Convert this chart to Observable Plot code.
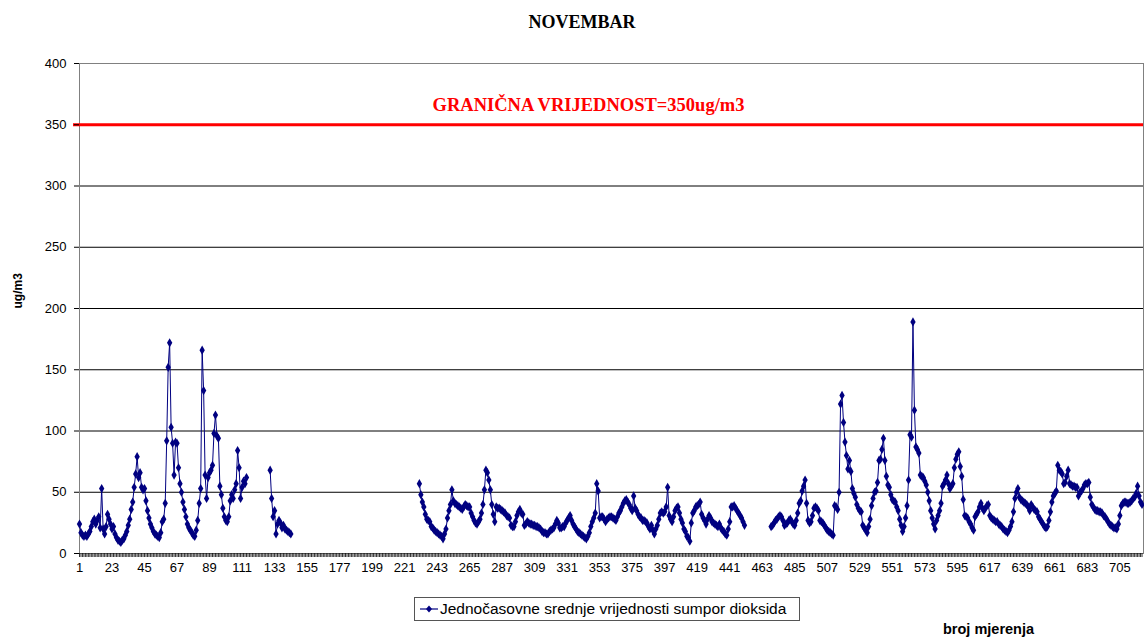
<!DOCTYPE html>
<html>
<head>
<meta charset="utf-8">
<script src="https://cdn.jsdelivr.net/npm/d3@7"></script>
<script src="https://cdn.jsdelivr.net/npm/@observablehq/plot@0.6"></script>
<style>
  body { margin: 0; background: #fff; }
  #wrap { width: 1144px; height: 640px; overflow: hidden; }
  #title { height: 45px; box-sizing: border-box; padding-top: 13px; padding-left: 20px; text-align: center;
           font: bold 18px "Liberation Serif", "Times New Roman", serif; line-height: 18px; color: #000; }
  #chart { height: 545px; }
  #bottom { position: relative; height: 50px; }
  #legend { position: absolute; left: 414px; top: 7px; width: 384px; height: 22px; border: 1px solid #555;
            display: flex; align-items: center; font: 15.5px "Liberation Sans", Arial, sans-serif; color: #000; white-space: nowrap; }
  #legend svg { margin-left: 5px; margin-right: 2px; }
  #xlabel { position: absolute; left: 943px; top: 31px; font: bold 14.5px "Liberation Sans", Arial, sans-serif; color: #000; }
</style>
</head>
<body>
<div id="wrap">
  <div id="title">NOVEMBAR</div>
  <div id="chart"></div>
  <div id="bottom">
    <div id="legend"></div>
    <div id="xlabel"></div>
  </div>
</div>
<script>
// ---- data (hourly SO2 values, ug/m3) ----
const seriesName = "Jednočasovne srednje vrijednosti sumpor dioksida";
const xTitle = "broj mjerenja";
const yTitle = "ug/m3";
const limitValue = 350;
const limitLabel = "GRANIČNA VRIJEDNOST=350ug/m3";
const totalHours = 720;

const segAStart = 1;
const segA = [24,17,15,14,15,14,16,18,22,26,
 28,24,27,30,21,53,20,16,22,32,
 28,24,20,22,16,13,11,10,9,11,
 12,15,18,23,28,36,42,54,65,79,
 62,66,54,52,53,43,35,29,24,21,
 18,16,15,14,13,17,26,28,41,92,
 152,172,103,90,64,91,90,70,57,50,
 42,36,30,24,21,19,17,15,14,19,
 27,41,53,166,133,64,45,62,66,68,
 72,98,113,96,94,55,48,37,30,27,
 26,30,43,48,45,52,57,84,70,45,
 54,59,57,62];

const segBStart = 130;
const segB = [68,45,30,35,16,24,27,25,21,23,20,19,18,17,16];

const segCStart = 231;
const segC = [57,48,42,38,32,28,27,26,22,21,
 19,18,17,16,15,14,12,16,20,29,
 35,40,52,43,41,40,39,38,37,36,
 38,40,39,38,38,33,30,27,25,24,
 26,28,33,40,52,68,66,60,52,40,
 32,26,38,37,37,36,35,34,33,31,
 30,29,23,22,22,26,31,34,36,33,
 32,23,24,26,25,24,24,23,23,22,
 22,21,20,18,17,17,16,16,18,19,
 20,21,24,27,25,21,21,22,22,25,
 27,29,31,27,24,22,20,18,17,16,
 15,14,13,12,14,17,22,26,29,33,
 57,51,29,30,30,28,26,28,29,30,
 30,29,28,27,30,33,35,38,41,43,
 44,42,40,37,35,47,37,35,32,30,
 29,27,27,26,25,22,20,23,19,16,
 20,23,28,33,34,33,34,38,54,31,
 28,26,30,35,37,38,33,28,25,20,
 18,14,13,10,25,33,35,38,39,40,
 42,32,29,27,24,28,31,29,26,25,
 24,23,22,24,21,19,18,16,15,20,
 26,38,38,39,37,35,33,31,29,26,
 23];

const segDStart = 469;
const segD = [22,23,25,27,28,30,31,30,27,23,
 24,25,27,28,26,24,23,27,33,41,
 43,51,55,60,41,27,25,26,31,37,
 38,37,35,27,26,25,23,21,19,18,
 17,16,15,39,38,36,50,122,129,107,
 91,80,69,76,67,53,49,46,40,37,
 35,34,23,21,19,17,22,28,39,45,
 50,51,58,76,77,85,94,76,63,56,
 54,48,44,43,42,38,35,28,23,18,
 22,29,39,60,97,95,189,117,87,85,
 82,64,63,62,59,56,50,43,35,29,
 24,20,27,31,35,41,55,57,60,64,
 57,53,55,57,70,77,81,83,71,63,
 44,31,30,29,26,24,21,19,30,32,
 34,38,41,37,35,37,39,40,31,29,
 28,27,26,26,24,23,22,20,19,18,
 17,19,22,26,34,45,50,53,46,44,
 43,42,41,40,38,35,40,38,36,35,
 34,30,28,26,24,22,21,22,27,34,
 42,47,49,51,72,68,67,65,57,58,
 63,68,57,56,55,55,54,54,47,50,
 51,53,56,57,57,58,46,40,38,36,
 35,35,34,34,33,31,30,28,26,24,
 23,22,21,21,20,24,31,39,41,42,
 42,41,41,42,43,45,46,49,55,47,
 42,40];

const xTickLabels = [1,23,45,67,89,111,133,155,177,199,221,243,265,287,309,331,353,375,397,419,441,463,485,507,529,551,573,595,617,639,661,683,705];
const yTickLabels = [0,50,100,150,200,250,300,350,400];
const gridValues = [0,50,100,150,200,250,300];

// ---- build table ----
const values = new Array(totalHours).fill(null);
for (const [start, seg] of [[segAStart, segA], [segBStart, segB], [segCStart, segC], [segDStart, segD]]) {
  seg.forEach((v, k) => { values[start - 1 + k] = v; });
}
const data = values.map((v, k) => ({i: k + 1, v}));
const points = data.filter(d => d.v != null);
const allIdx = d3.range(1, totalHours + 1);

const navy = "#000080";
const sans = "Liberation Sans, Arial, sans-serif";

const chart = Plot.plot({
  width: 1144,
  height: 545,
  marginTop: 18,
  marginBottom: 37,
  marginLeft: 79,
  marginRight: 1,
  style: {background: "#fff", overflow: "visible"},
  x: {type: "linear", domain: [1, totalHours + 1]},
  y: {domain: [0, 400]},
  marks: [
    Plot.ruleY(gridValues, {stroke: "#000", strokeWidth: 1}),
    Plot.frame({stroke: "#808080"}),
    Plot.ruleY([limitValue], {stroke: "#ff0000", strokeWidth: 3, insetLeft: -6}),
    Plot.text([limitLabel], {frameAnchor: "top", dy: 34, dx: -23, fill: "#ff0000", fontWeight: "bold",
      fontFamily: "Liberation Serif, Times New Roman, serif", fontSize: 18.5}),
    Plot.axisY({ticks: yTickLabels, tickSize: 5, tickPadding: 8, label: null,
      fontSize: 13, fontFamily: sans, fill: "#000", stroke: "#000"}),
    Plot.axisX({ticks: allIdx, tickSize: 4, tickFormat: () => "", label: null, stroke: "#000", strokeWidth: 0.8}),
    Plot.axisX({ticks: xTickLabels, tickSize: 0, tickPadding: 9, tickFormat: d => String(d), label: null,
      fontSize: 13, fontFamily: sans, fill: "#000"}),
    Plot.text([yTitle], {frameAnchor: "left", rotate: -90, dx: -61, fontWeight: "bold",
      fontSize: 12, fontFamily: sans, fill: "#000"}),
    Plot.line(data, {x: "i", y: "v", stroke: navy, strokeWidth: 1}),
    Plot.dot(points, {x: "i", y: "v", symbol: "diamond", r: 2.8, fill: navy, stroke: "none"})
  ]
});
document.getElementById("chart").appendChild(chart);

// legend
const legend = document.getElementById("legend");
legend.innerHTML = `<svg width="18" height="10"><line x1="0" y1="5" x2="18" y2="5" stroke="${navy}" stroke-width="1.2"/><path d="M9,1.5 L12,5 L9,8.5 L6,5 Z" fill="${navy}"/></svg><span></span>`;
legend.querySelector("span").textContent = seriesName;
document.getElementById("xlabel").textContent = xTitle;
</script>
</body>
</html>
